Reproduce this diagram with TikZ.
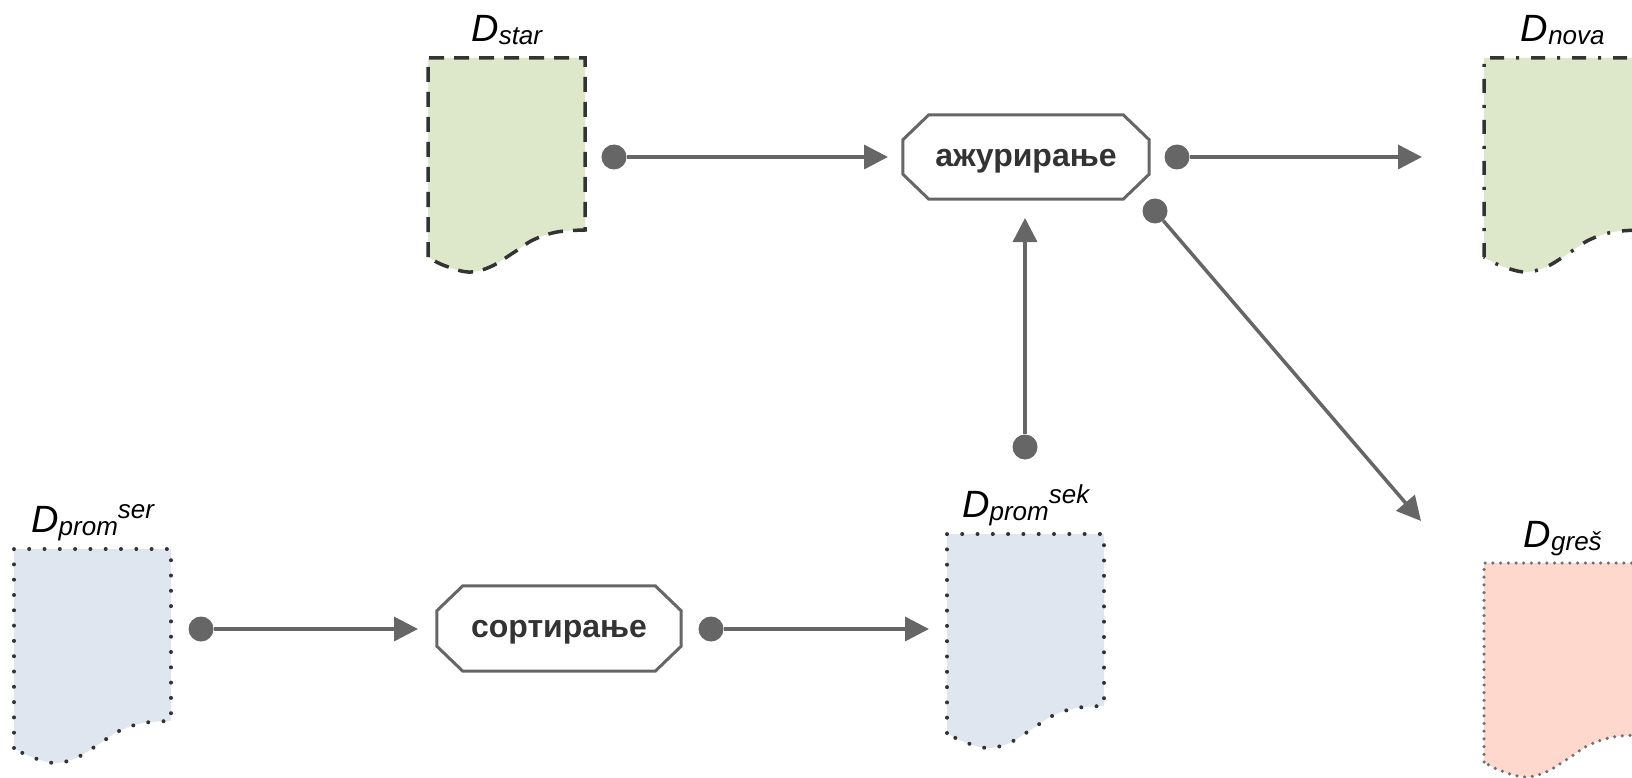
\documentclass[tikz,border=0pt]{standalone}
\usepackage{fontspec}
\setmainfont{Liberation Sans}
\usetikzlibrary{arrows.meta}

\definecolor{flowgray}{HTML}{666666}
\definecolor{inkdark}{HTML}{333333}
\definecolor{dotgray}{HTML}{707070}
\definecolor{filegreen}{HTML}{DDE8CB}
\definecolor{fileblue}{HTML}{DFE6EF}
\definecolor{filepink}{HTML}{FFD8CD}

% wavy-bottomed file outline hung from the north west corner of a node
\newcommand\fileoutline[2]{%
  \begin{scope}[shift={(#1.north west)}]
    \path[#2] (0,199) -- (0,0) -- (157,0) -- (157,172)
      -- plot[smooth, tension=0.6] coordinates
         {(157,172) (129,174) (105,182) (85,195) (62,209) (40,214) (15,207) (0,199)}
      -- cycle;
  \end{scope}}

% octagonal outline drawn round a process node
\newcommand\octoutline[1]{%
  \draw[procline]
    ([xshift=26pt]#1.north west) -- ([xshift=-26pt]#1.north east)
    -- ([yshift=-25pt]#1.north east) -- ([yshift=25pt]#1.south east)
    -- ([xshift=-26pt]#1.south east) -- ([xshift=26pt]#1.south west)
    -- ([yshift=25pt]#1.south west) -- ([yshift=-25pt]#1.north west)
    -- cycle;}

% process caption, set a little below the node's centre
\newcommand\proctext[1]{\raisebox{-4pt}[\height][\depth]{#1}}

% file label: italic D with a subscript and an optional superscript
\newcommand\fsub[1]{\raisebox{-3pt}{\fontsize{26}{26}\selectfont #1}}
\newcommand\fsup[1]{\raisebox{14pt}{\fontsize{26}{26}\selectfont #1}}

\tikzset{
  filebox/.style={rectangle, minimum width=157pt, minimum height=214pt,
    inner sep=0pt, anchor=north west},
  filelabel/.style={anchor=base, inner sep=0pt, text=black,
    font=\fontsize{38}{38}\selectfont\itshape},
  olddash/.style={fill=filegreen, draw=inkdark, line width=3.5pt,
    dash pattern=on 15pt off 10pt},
  newdash/.style={fill=filegreen, draw=inkdark, line width=3.5pt,
    dash pattern=on 14pt off 12pt on 3pt off 12pt},
  tempdots/.style={fill=fileblue, draw=inkdark, line width=4pt,
    line cap=round, dash pattern=on 0pt off 15.3pt},
  errdots/.style={fill=filepink, draw=dotgray, line width=3.5pt,
    line cap=round, dash pattern=on 0pt off 7.7pt},
  process/.style={rectangle, fill=white, text=inkdark, inner sep=0pt,
    font=\fontsize{32}{32}\selectfont\bfseries},
  procline/.style={draw=flowgray, line width=3pt, line join=miter},
  startdot/.style={circle, fill=flowgray, minimum size=25pt, inner sep=0pt},
  flow/.style={draw=flowgray, line width=3.5pt,
    -{Triangle[length=24pt, width=24pt]}},
}

\begin{document}
\begin{tikzpicture}[x=1pt, y=-1pt]
  \useasboundingbox (0,0) rectangle (1632,778);
  \clip (0,0) rectangle (1632,778);

  % files
  \node[filebox] (dstar) at (428,58) {};
  \node[filebox] (dnova) at (1484,58) {};
  \node[filebox] (dgres) at (1484,563) {};
  \node[filebox] (dser)  at (14,549) {};
  \node[filebox] (dsek)  at (947,534) {};

  \fileoutline{dstar}{olddash}
  \fileoutline{dnova}{newdash}
  \fileoutline{dgres}{errdots}
  \fileoutline{dser}{tempdots}
  \fileoutline{dsek}{tempdots}

  \node[filelabel] (lstar) at ([yshift=16pt]dstar.north) {D\fsub{star}};
  \node[filelabel] (lnova) at ([yshift=16pt]dnova.north) {D\fsub{nova}};
  \node[filelabel] (lgres) at ([yshift=16pt]dgres.north) {D\fsub{greš}};
  \node[filelabel] (lser)  at ([yshift=17pt]dser.north)  {D\fsub{prom}\fsup{ser}};
  \node[filelabel] (lsek)  at ([yshift=17pt]dsek.north)  {D\fsub{prom}\fsup{sek}};

  % processes
  \node[process, minimum width=246pt, minimum height=84pt] (update) at (1026,157) {\proctext{ажурирање}};
  \octoutline{update}
  \node[process, minimum width=244pt, minimum height=85pt] (sort) at (559,628.5) {\proctext{сортирање}};
  \octoutline{sort}

  % connectors
  \node[startdot] (s1) at (614,157) {};
  \node[startdot] (s2) at (1177,157) {};
  \node[startdot] (s3) at (1025,447) {};
  \node[startdot] (s4) at (1155,211) {};
  \node[startdot] (s5) at (201,629) {};
  \node[startdot] (s6) at (711,629) {};

  \coordinate (e1) at (888,157);
  \coordinate (e2) at (1422,157);
  \coordinate (e3) at (1025,218);
  \coordinate (e4) at (1421,521);
  \coordinate (e5) at (418,629);
  \coordinate (e6) at (929,629);

  \draw[flow] (s1) -- (e1);
  \draw[flow] (s2) -- (e2);
  \draw[flow] (s3) -- (e3);
  \draw[flow] (s4) -- (e4);
  \draw[flow] (s5) -- (e5);
  \draw[flow] (s6) -- (e6);
\end{tikzpicture}
\end{document}
